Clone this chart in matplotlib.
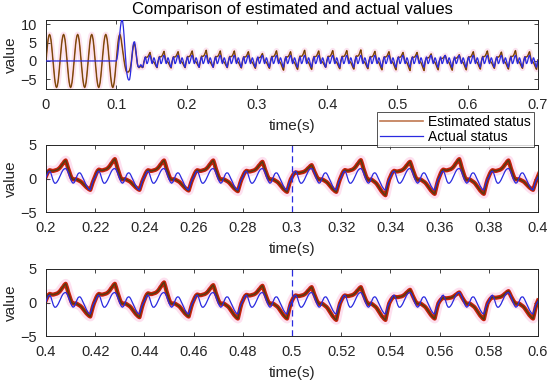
import numpy as np
import matplotlib
matplotlib.use("Agg")
import matplotlib.pyplot as plt
from matplotlib.lines import Line2D

plt.rcParams["font.family"] = ["Liberation Sans", "DejaVu Sans"]

# --- donnees ---
# estimation avant le defaut : un cycle (pas 1 ms), 5 cycles de 0 a 0.1 s
sine_cycle = [0, 2.2, 4.2, 5.8, 6.8, 7.2, 6.8, 5.8, 4.2, 2.2,
              0, -2.2, -4.2, -5.8, -6.8, -7.2, -6.8, -5.8, -4.2, -2.2]

# regime transitoire 0.100 -> 0.139 s (pas 1 ms)
est_transient = [0, 2.2, 4.2, 5.8, 6.8, 7.2, 6.8, 5.8, 4.5, 3.0,
                 1.5, 0.2, -1.0, -2.0, -2.7, -3.0, -3.0, -3.0, -2.8, -2.5,
                 -1.8, -0.8, 0.8, 2.5, 3.8, 4.5, 4.6, 3.8, 2.3, 0.6,
                 -0.7, -1.5, -1.8, -1.8, -1.5, -1.3, -1.5, -1.8, -1.7, -0.6]
act_transient = [0, 0.6, 1.8, 3.5, 5.5, 7.5, 9.3, 10.6, 11.2, 10.8,
                 9.3, 7.0, 4.2, 1.3, -1.3, -3.2, -4.4, -5.0, -5.2, -5.0,
                 -3.8, -1.8, 0.5, 2.7, 4.3, 5.1, 5.2, 4.2, 2.5, 0.6,
                 -0.8, -1.5, -1.7, -1.6, -1.2, -1.0, -1.3, -1.7, -1.6, -0.6]

# regime etabli : un cycle de 20 ms (pas 0.5 ms)
est_cycle = [0.3, 0.7, 1.0, 1.15, 1.1, 1.05, 1.05, 1.1, 1.15, 1.2,
             1.3, 1.45, 1.65, 1.9, 2.1, 2.35, 2.5, 2.0, 1.4, 0.9,
             0.4, 0.0, -0.15, -0.15, -0.1, -0.15, -0.25, -0.35, -0.45, -0.6,
             -0.8, -1.0, -1.2, -1.4, -1.55, -1.7, -1.8, -1.2, -0.6, -0.1]
act_cycle = [0.2, 0.6, 1.0, 1.1, 0.8, 0.2, -0.4, -0.7, -0.7, -0.5,
             -0.2, 0.2, 0.6, 1.0, 1.3, 1.45, 1.5, 1.3, 0.9, 0.4,
             -0.1, -0.5, -0.7, -0.6, -0.2, 0.3, 0.7, 0.85, 0.8, 0.5,
             0.1, -0.3, -0.7, -1.1, -1.4, -1.65, -1.7, -1.1, -0.5, -0.1]

# pic et creux de l'estimation, cycle par cycle (debut a 0.14, 0.16, ... 0.68 s)
est_peak = [2.3, 2.6, 2.5, 2.7, 2.9, 2.7, 2.7, 2.5, 2.0, 2.75,
            2.5, 2.9, 2.7, 2.8, 2.8, 3.0, 2.6, 2.5, 2.3, 2.3,
            1.9, 1.5, 1.7, 2.5, 2.7, 2.4, 2.8, 2.5]
est_trough = [-1.8, -1.9, -1.8, -1.7, -1.7, -1.8, -1.9, -2.0, -2.0, -2.5,
              -2.3, -2.3, -1.7, -2.1, -2.2, -2.1, -2.4, -2.4, -2.6, -2.6,
              -2.4, -2.5, -2.4, -2.2, -2.0, -2.2, -2.0, -2.3]

xticks_top = [0, 0.1, 0.2, 0.3, 0.4, 0.5, 0.6, 0.7]
xticks_mid = [0.2, 0.22, 0.24, 0.26, 0.28, 0.3, 0.32, 0.34, 0.36, 0.38, 0.4]
xticks_bot = [0.4, 0.42, 0.44, 0.46, 0.48, 0.5, 0.52, 0.54, 0.56, 0.58, 0.6]

# --- assemblage des series ---
t1 = np.arange(0, 0.1, 0.001)
est1 = np.tile(sine_cycle, 5)
act1 = np.zeros_like(t1)
t2 = 0.1 + np.arange(len(est_transient)) * 0.001
t3 = 0.14 + np.arange(len(est_peak) * len(est_cycle)) * 0.0005
c = np.array(est_cycle)
est3 = np.concatenate([np.where(c > 0, c * p / 2.5, c * tr / -1.8)
                       for p, tr in zip(est_peak, est_trough)])
act3 = np.tile(act_cycle, len(est_peak))

t = np.concatenate([t1, t2, t3, [0.7]])
est = np.concatenate([est1, est_transient, est3, [est3[0]]])
act = np.concatenate([act1, act_transient, act3, [act3[0]]])

# --- figure ---
fig = plt.figure(figsize=(5.5, 3.83), dpi=100)
W, H = 550, 383


def box(l, t_, r, b):
    return [l / W, 1 - b / H, (r - l) / W, (b - t_) / H]


axes = [fig.add_axes(box(46, 20, 538, 89)),
        fig.add_axes(box(46, 145, 538, 212)),
        fig.add_axes(box(46, 269, 538, 336))]

# halo rose, trait rouge, coeur brun
styles = [(4, "#fbe3f0", 1.1, "#b5651d", 0.5),
          (7, "#fde0ef", 3.0, "#c8200a", 1.1),
          (7, "#fde0ef", 3.0, "#c8200a", 1.1)]
for ax, (wp, cp, wr, cr, wc) in zip(axes, styles):
    ax.plot(t, est, color=cp, lw=wp, solid_capstyle="butt", zorder=1)
    ax.plot(t, est, color=cr, lw=wr, zorder=2)
    ax.plot(t, est, color="#5a3a10", lw=wc, zorder=3)
    ax.plot(t, act, color="#2a2ae0", lw=0.9, zorder=4)

xt = [xticks_top, xticks_mid, xticks_bot]
lims = [(0, 0.7), (0.2, 0.4), (0.4, 0.6)]
for ax, ticks, lim in zip(axes, xt, lims):
    ax.set_xlim(lim)
    ax.set_xticks(ticks)
    ax.set_xticklabels([f"{v:g}" for v in ticks])
    ax.set_xlabel("time(s)", fontsize=11, labelpad=5, color="#262626")
    ax.set_ylabel("value", fontsize=11, color="#262626")
    ax.tick_params(direction="in", top=True, right=True, labelsize=10.5,
                   length=3, width=0.6, colors="#262626", pad=6.5)
    for s in ax.spines.values():
        s.set_linewidth(0.7)
        s.set_color("#262626")

axes[0].set_ylim(-7.6, 11.1)
axes[0].set_yticks([-5, 0, 5, 10])
for ax in axes[1:]:
    ax.set_ylim(-5, 5)
    ax.set_yticks([-5, 0, 5])
for ax in axes:
    ax.yaxis.set_label_coords(-0.058, 0.5)

axes[1].axvline(0.3, color="#2a2ae0", lw=0.9, ls=(0, (5, 3)), zorder=5)
axes[2].axvline(0.5, color="#2a2ae0", lw=0.9, ls=(0, (5, 3)), zorder=5)

axes[0].set_title("Comparison of estimated and actual values", fontsize=12,
                  pad=4, color="#000000")

handles = [Line2D([], [], color="#c07850", lw=1.2),
           Line2D([], [], color="#2a2ae0", lw=0.9)]
leg = fig.legend(handles, ["Estimated status", "Actual status"],
                 loc="upper left", bbox_to_anchor=(377 / W, 1 - 112 / H),
                 fontsize=10, frameon=True, fancybox=False,
                 borderpad=0.2, labelspacing=0.1, handlelength=3.1,
                 handletextpad=0.4, borderaxespad=0)
leg.get_frame().set_edgecolor("#262626")
leg.get_frame().set_linewidth(0.7)

fig.savefig("out.png", dpi=100)
